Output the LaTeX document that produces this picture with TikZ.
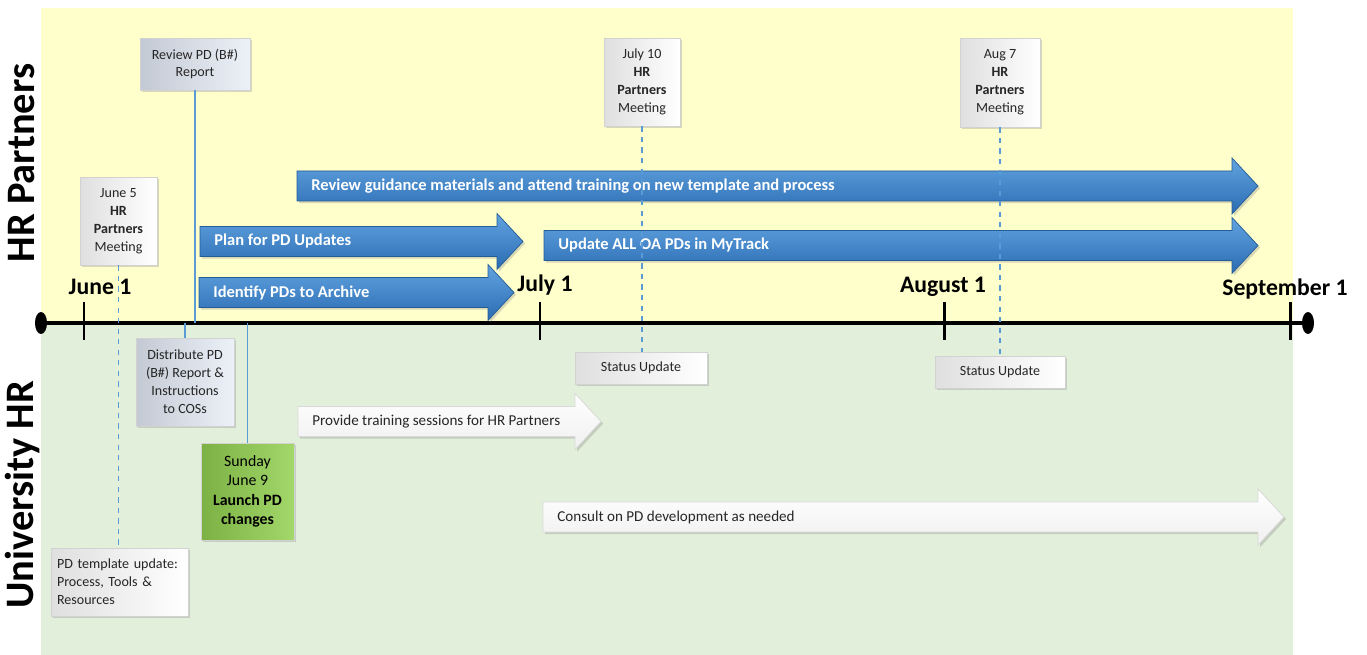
\documentclass[tikz,border=0pt]{standalone}
\usepackage{fontspec}
\setmainfont{Carlito}
\usetikzlibrary{shadows}

\definecolor{laneyellow}{RGB}{255,255,204}
\definecolor{lanegreen}{RGB}{226,239,218}
\definecolor{linkblue}{RGB}{91,155,213}
\definecolor{bartop}{RGB}{98,163,224}
\definecolor{barbot}{RGB}{42,108,178}
\definecolor{boxblue}{RGB}{218,226,240}
\definecolor{boxgreen}{RGB}{146,208,80}

% phase bar: bar style, text style, name, x start, x end of shaft, y centre, text
\newcommand{\phase}[7]{%
    \path[#1] (#4,#6-15) -- (#5,#6-15) -- (#5,#6-28) -- (#5+26,#6)
        -- (#5,#6+28) -- (#5,#6+15) -- (#4,#6+15) -- cycle;
    \node[#2, anchor=west, inner sep=0pt] (#3) at (#4+14,#6) {#7};
}

\begin{document}
\begin{tikzpicture}
    [
    x=0.02cm, y=-0.02cm,
    card/.style={
        rectangle,
        draw=gray!35,
        left color=gray!25,
        right color=white,
        drop shadow={opacity=0.3, shadow xshift=1.2pt, shadow yshift=-1.2pt},
        align=center,
        inner sep=2pt,
        text=black!85,
        font=\fontsize{8}{10.2}\selectfont
    },
    bluecard/.style={card, left color=boxblue!75!gray, right color=boxblue!50!white},
    greencard/.style={card, left color=boxgreen!85!black, right color=boxgreen!85!white, text=black, font=\fontsize{9}{11}\selectfont},
    month/.style={font=\fontsize{13.5}{15}\selectfont\bfseries},
    lane/.style={rotate=90, font=\fontsize{23}{26}\selectfont\bfseries},
    tick/.style={line width=1.7pt},
    link/.style={linkblue, line width=1pt},
    dlink/.style={link, dashed},
    bluebar/.style={draw=barbot!85!black, top color=bartop, bottom color=barbot,
        drop shadow={opacity=0.3, shadow xshift=1.2pt, shadow yshift=-1.2pt}},
    whitebar/.style={draw=gray!30, top color=white, bottom color=gray!12,
        drop shadow={opacity=0.3, shadow xshift=1.2pt, shadow yshift=-1.2pt}},
    bartext/.style={text=white, font=\fontsize{9.4}{11}\selectfont\bfseries},
    whitetext/.style={text=black!85, font=\fontsize{8.6}{10}\selectfont}
    ]
    \useasboundingbox (0,0) rectangle (1367,655);

% Lanes
    \fill[laneyellow] (41,8) rectangle (1293,323);
    \fill[lanegreen] (41,323) rectangle (1293,655);
    \node[lane] (hrp) at (22,163) {HR Partners};
    \node[lane] (uhr) at (22,495) {University HR};

% Time axis
    \coordinate (ax) at (0,323);
    \draw[line width=2.8pt] (41,323) -- (1308,323);
    \fill (41,323) ellipse [x radius=0.12cm, y radius=0.22cm];
    \fill (1308,323) ellipse [x radius=0.12cm, y radius=0.22cm];
    \foreach \x in {84,540,944,1290}
        \draw[tick] (\x,302) -- (\x,340);

    \node[month] (jun1) at (100,287) {June 1};
    \node[month] (jul1) at (545,285) {July 1};
    \node[month] (aug1) at (943,287) {August 1};
    \node[month] (sep1) at (1285,289) {September 1};

% HR Partners bars
    \phase{bluebar}{bartext}{guide}{297}{1232}{186}{Review guidance materials and attend training on new template and process}
    \phase{bluebar}{bartext}{plan}{200}{497}{241.5}{Plan for PD Updates}
    \phase{bluebar}{bartext}{arch}{199}{488}{292.5}{Identify PDs to Archive}
    \phase{bluebar}{bartext}{upd}{544}{1232}{245.5}{Update ALL OA PDs in MyTrack}

% University HR bars
    \phase{whitebar}{whitetext}{train}{298}{575}{421.5}{Provide training sessions for HR Partners}
    \phase{whitebar}{whitetext}{consult}{543}{1258}{517}{Consult on PD development as needed}

% Milestone cards
    \node[bluecard, minimum width=2.2cm, minimum height=1.04cm] (rev) at (195,64) {Review PD (B\#)\\Report};
    \node[card, minimum width=1.54cm, minimum height=1.76cm] (jun5) at (118.5,221) {June 5\\\textbf{HR}\\\textbf{Partners}\\Meeting};
    \node[card, minimum width=1.52cm, minimum height=1.76cm] (jul10) at (642,82) {July 10\\\textbf{HR}\\\textbf{Partners}\\Meeting};
    \node[card, minimum width=1.6cm, minimum height=1.78cm] (aug7) at (1000,82.5) {Aug 7\\\textbf{HR}\\\textbf{Partners}\\Meeting};
    \node[bluecard, minimum width=1.96cm, minimum height=1.76cm] (dist) at (185,382) {Distribute PD\\(B\#) Report \&\\Instructions\\to COSs};
    \node[greencard, minimum width=1.86cm, minimum height=1.94cm] (sun) at (247.5,491.5) {Sunday\\June 9\\\textbf{Launch PD}\\\textbf{changes}};
    \node[card, minimum width=2.74cm, minimum height=1.36cm, text width=2.5cm, align=left] (tmpl) at (119.5,582) {PD template update:\\Process, Tools \&\\Resources};
    \node[card, minimum width=2.64cm, minimum height=0.64cm] (stat1) at (641,368) {Status Update};
    \node[card, minimum width=2.6cm, minimum height=0.64cm] (stat2) at (1000,372) {Status Update};

% Connectors
    \draw[link] (rev.south) -- (rev.south |- ax);
    \draw[link] (dist.north) -- (dist.north |- ax);
    \draw[link] (sun.north) -- (sun.north |- ax);
    \draw[dlink] (jun5.south) -- (jun5.south |- tmpl.north);
    \draw[dlink] (jul10.south) -- (jul10.south |- stat1.north);
    \draw[dlink] (aug7.south) -- (aug7.south |- stat2.north);

\end{tikzpicture}
\end{document}
